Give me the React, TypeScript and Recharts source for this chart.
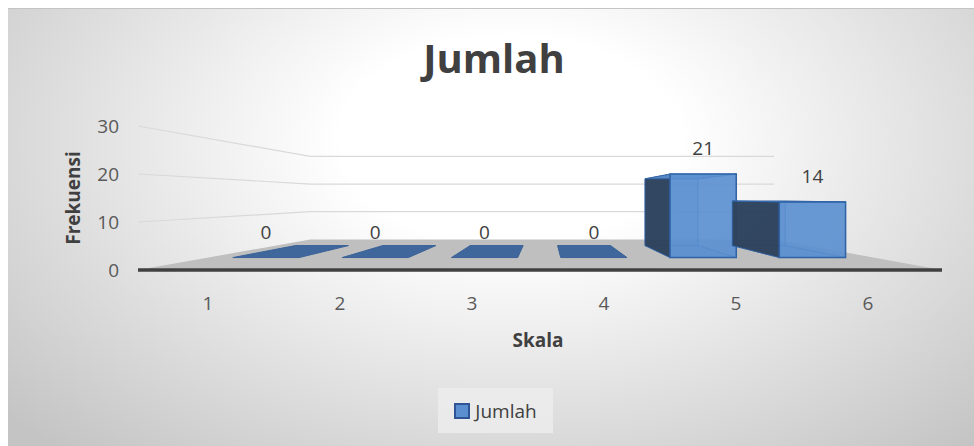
import { BarChart, Bar, XAxis, YAxis, CartesianGrid, LabelList } from "recharts";

// data
const skala = ["1", "2", "3", "4", "5", "6"];
const jumlah = [0, 0, 0, 0, 21, 14];
const yTicks = [0, 10, 20, 30];
const seriesName = "Jumlah";

const chartData = skala.map((s, i) => ({ skala: s, jumlah: jumlah[i] }));

// fake 3d: vanishing point + depth scale factors (chart coords)
const VX = 537;
const VY = 188.7;
const S_FRONT = 0.828;
const S_BACK = 0.662;
const S_WALL = 0.577;

const FONT = "'Open Sans', sans-serif";
const BLUE = "#5b8fd0";
const EDGE = "#2f63a6";

const proj = (X: number, Y: number, s: number) => [VX + (X - VX) * s, VY + (Y - VY) * s];
const pts = (arr: number[][]) => arr.map((p) => `${p[0]},${p[1]}`).join(" ");

function Box3D(props: any) {
  const { x, y, width, height } = props;
  const h = Math.max(0, height || 0);
  const x0 = x, x1 = x + width, yt = y, yb = y + h;
  const fTL = proj(x0, yt, S_FRONT), fTR = proj(x1, yt, S_FRONT);
  const fBL = proj(x0, yb, S_FRONT), fBR = proj(x1, yb, S_FRONT);
  const bTL = proj(x0, yt, S_BACK), bTR = proj(x1, yt, S_BACK);
  const bBL = proj(x0, yb, S_BACK), bBR = proj(x1, yb, S_BACK);

  if (h < 0.5) {
    return <polygon points={pts([fBL, fBR, bBR, bBL])} fill="#3f679c" stroke="#3a6298" strokeWidth={1} />;
  }
  return (
    <g>
      <polygon points={pts([bTL, bTR, bBR, bBL])} fill={BLUE} fillOpacity={0.6} stroke={EDGE} strokeOpacity={0.5} />
      <polygon points={pts([bTR, fTR, fBR, bBR])} fill={BLUE} fillOpacity={0.4} stroke={EDGE} strokeOpacity={0.5} />
      <polygon points={pts([bBL, bBR, fBR, fBL])} fill={BLUE} fillOpacity={0.6} stroke={EDGE} strokeOpacity={0.6} />
      <polygon points={pts([bTL, fTL, fBL, bBL])} fill="#2c405a" fillOpacity={0.95} stroke={EDGE} strokeOpacity={0.7} />
      <polygon points={pts([bTL, bTR, fTR, fTL])} fill={BLUE} fillOpacity={0.9} stroke={EDGE} strokeOpacity={0.8} />
      <polygon points={pts([fTL, fTR, fBR, fBL])} fill={BLUE} fillOpacity={0.85} stroke={EDGE} strokeWidth={1.5} />
    </g>
  );
}

function ValueLabel(props: any) {
  const { x, y, width, value } = props;
  const p = proj(x + width / 2, y, S_FRONT);
  return (
    <text x={p[0]} y={p[1] - 26} textAnchor="middle" dominantBaseline="central" fontSize={19} fill="#404040" fontFamily={FONT}>
      {value}
    </text>
  );
}

// grid lines on side + back wall; bottom line becomes the floor
function WallLine(props: any) {
  const { x1, y1, x2, y, height } = props;
  const l = x1 - 4, r = x2 + 8;
  const bl = proj(l, y1, S_WALL), br = proj(r, y1, S_WALL);
  if (Math.abs(y1 - (y + height)) < 1) {
    return (
      <g>
        <polygon points={pts([[l, y1], [r, y1], br, bl])} fill="#bfbfbf" />
        <line x1={l} y1={y1} x2={r} y2={y1} stroke="#404040" strokeWidth={3.5} />
      </g>
    );
  }
  return <polyline points={pts([[l, y1], bl, br])} fill="none" stroke="#d9d9d9" strokeWidth={1.2} />;
}

export default function App() {
  return (
    <div
      style={{
        position: "absolute",
        left: 8,
        top: 8,
        width: 966,
        height: 437,
        borderTop: "1px solid #c4c4c4",
        background: "radial-gradient(ellipse 70% 95% at 52% 30%, #ffffff 25%, #c4c4c4 100%)",
        fontFamily: FONT,
      }}
    >
      <div
        style={{
          position: "absolute",
          left: 0,
          width: 972,
          top: 29,
          textAlign: "center",
          fontSize: 40,
          lineHeight: "40px",
          fontWeight: 700,
          color: "#404040",
        }}
      >
        Jumlah
      </div>
      <BarChart width={966} height={437} data={chartData} margin={{ top: 117, right: 40, bottom: 116, left: 0 }}>
        <CartesianGrid vertical={false} horizontal={(p: any) => <WallLine key={p.key} {...p} />} />
        <XAxis
          dataKey="skala"
          height={60}
          tickLine={false}
          axisLine={false}
          tickMargin={21}
          tick={{ fill: "#595959", fontSize: 19, fontFamily: FONT }}
          label={{
            content: (p: any) => (
              <text x={p.viewBox.x + p.viewBox.width / 2} y={p.viewBox.y + 77} textAnchor="middle" fontSize={19} fontWeight={700} fill="#404040" fontFamily={FONT}>
                Skala
              </text>
            ),
          }}
        />
        <YAxis
          width={134}
          domain={[0, 30]}
          ticks={yTicks}
          tickLine={false}
          axisLine={false}
          tickMargin={17}
          tick={{ fill: "#595959", fontSize: 19, fontFamily: FONT }}
          label={{
            content: (p: any) => {
              const cx = 65;
              const cy = p.viewBox.y + p.viewBox.height / 2;
              return (
                <text x={cx} y={cy} transform={`rotate(-90, ${cx}, ${cy})`} textAnchor="middle" dominantBaseline="central" fontSize={19} fontWeight={700} fill="#404040" fontFamily={FONT}>
                  Frekuensi
                </text>
              );
            },
          }}
        />
        <Bar dataKey="jumlah" name={seriesName} barSize={80} isAnimationActive={false} shape={(p: any) => <Box3D {...p} />}>
          <LabelList dataKey="jumlah" content={(p: any) => <ValueLabel {...p} />} />
        </Bar>
      </BarChart>
      <div
        style={{
          position: "absolute",
          left: 430,
          top: 379,
          width: 115,
          height: 45,
          background: "rgba(236,236,236,0.85)",
          display: "flex",
          alignItems: "center",
          justifyContent: "center",
          gap: 5,
        }}
      >
        <span style={{ width: 12, height: 12, background: BLUE, border: "2px solid #2f5597", display: "inline-block" }} />
        <span style={{ fontSize: 19, color: "#404040" }}>{seriesName}</span>
      </div>
    </div>
  );
}
